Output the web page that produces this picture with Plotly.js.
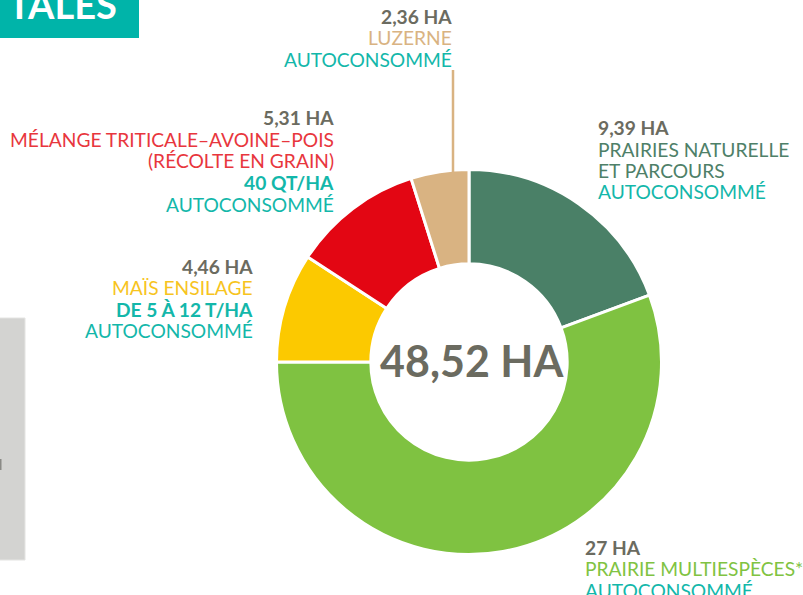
<!DOCTYPE html>
<html>
<head>
<meta charset="utf-8">
<script src="https://cdn.plot.ly/plotly-3.0.1.min.js"></script>
<style>html,body{margin:0;padding:0;background:#fff;}#chart{width:803px;height:595px;}</style>
</head>
<body>
<div id="chart"></div>
<script>
// ---- data ----
const categories = ['Prairies naturelle et parcours', 'Prairie multiespèces*', 'Maïs ensilage', 'Mélange triticale–avoine–pois', 'Luzerne'];
const hectares = [9.39, 27, 4.46, 5.31, 2.36];
const categoryLines = [
  ['PRAIRIES NATURELLE', 'ET PARCOURS'],
  ['PRAIRIE MULTIESPÈCES*'],
  ['MAÏS ENSILAGE'],
  ['MÉLANGE TRITICALE–AVOINE–POIS', '(RÉCOLTE EN GRAIN)'],
  ['LUZERNE']
];
const yieldLabels = [null, null, 'DE 5 À 12 T/HA', '40 QT/HA', null];
const useLabel = 'AUTOCONSOMMÉ';
const unitLabel = 'HA';
const headerText = 'TALES';

// ---- styles ----
const W = 803, H = 595;
const sliceColors = ['#4a8067', '#7fc241', '#fcc900', '#e30613', '#d9b382'];
const textColors  = ['#4e8068', '#80c342', '#f7c41e', '#e8363d', '#d9b382'];
const grayText = '#6b6b60';
const teal = '#13b7aa';
const FONT = 'Lato, "Open Sans", sans-serif';
const FS = 19.2;
const STEP = 21.5;
// block anchors (pixels): x edge, first line center y, side
const blocks = [
  {x: 597, y: 128.5, side: 'left'},
  {x: 584, y: 548, side: 'left'},
  {x: 253.5, y: 267, side: 'right'},
  {x: 334.5, y: 119, side: 'right'},
  {x: 453, y: 17.5, side: 'right'}
];
const px = x => x / W;
const py = y => 1 - y / H;
const fmt = v => String(v).replace('.', ',');

const annotations = [];
const YSHIFT = 1;
categories.forEach((c, i) => {
  const lines = [];
  lines.push({t: '<b>' + fmt(hectares[i]) + ' ' + unitLabel + '</b>', color: grayText});
  categoryLines[i].forEach(l => lines.push({t: l, color: textColors[i]}));
  if (yieldLabels[i]) lines.push({t: '<b>' + yieldLabels[i] + '</b>', color: teal});
  lines.push({t: useLabel, color: teal});
  const b = blocks[i];
  lines.forEach((ln, k) => {
    annotations.push({
      xref: 'paper', yref: 'paper',
      x: px(b.x), y: py(b.y + k * STEP),
      xanchor: b.side, yanchor: 'middle', yshift: YSHIFT,
      align: b.side, showarrow: false,
      text: ln.t, font: {family: FONT, size: FS, color: ln.color},
      borderpad: 0
    });
  });
});
const total = hectares.reduce((a, b) => a + b, 0);
annotations.push({
  xref: 'paper', yref: 'paper', x: px(472), y: py(360),
  xanchor: 'center', yanchor: 'middle', showarrow: false,
  text: '<b>' + fmt(total.toFixed(2)) + ' ' + unitLabel + '</b>',
  font: {family: FONT, size: 43, color: grayText, weight: 900}
});
annotations.push({
  xref: 'paper', yref: 'paper', x: px(118), y: py(17),
  xanchor: 'right', yanchor: 'bottom', showarrow: false,
  text: '<b>' + headerText + '</b>',
  font: {family: FONT, size: 38, color: '#ffffff', weight: 900}, borderpad: 0, yshift: -11
});

const cx = 469, cy = 362, R = 192.5;
const trace = {
  type: 'pie', values: hectares, labels: categories,
  sort: false, direction: 'clockwise', rotation: 0,
  hole: 0.51,
  marker: {colors: sliceColors, line: {color: '#ffffff', width: 3}},
  textinfo: 'none', hoverinfo: 'label+value',
  domain: {x: [px(cx - R), px(cx + R)], y: [py(cy + R), py(cy - R)]}
};

const layout = {
  width: W, height: H,
  margin: {l: 0, r: 0, t: 0, b: 0},
  paper_bgcolor: '#ffffff', plot_bgcolor: '#ffffff',
  showlegend: false,
  annotations: annotations,
  shapes: [
    {type: 'rect', xref: 'paper', yref: 'paper', x0: 0, x1: px(139), y0: py(38), y1: 1.02,
     fillcolor: '#00b4a9', line: {width: 0}, layer: 'below'},
    {type: 'rect', xref: 'paper', yref: 'paper', x0: -0.01, x1: px(25), y0: py(560), y1: py(318),
     fillcolor: '#d3d3d1', line: {color: '#e4e4e2', width: 1}, layer: 'below'},
    {type: 'rect', xref: 'paper', yref: 'paper', x0: 0, x1: px(1.5), y0: py(470), y1: py(459),
     fillcolor: '#8a8a86', line: {width: 0}, layer: 'below'},
    {type: 'line', xref: 'paper', yref: 'paper', x0: px(453), x1: px(453), y0: py(70), y1: py(172),
     line: {color: '#d9b382', width: 2.5}}
  ]
};
Plotly.newPlot('chart', [trace], layout, {displayModeBar: false, staticPlot: true});
</script>
</body>
</html>
